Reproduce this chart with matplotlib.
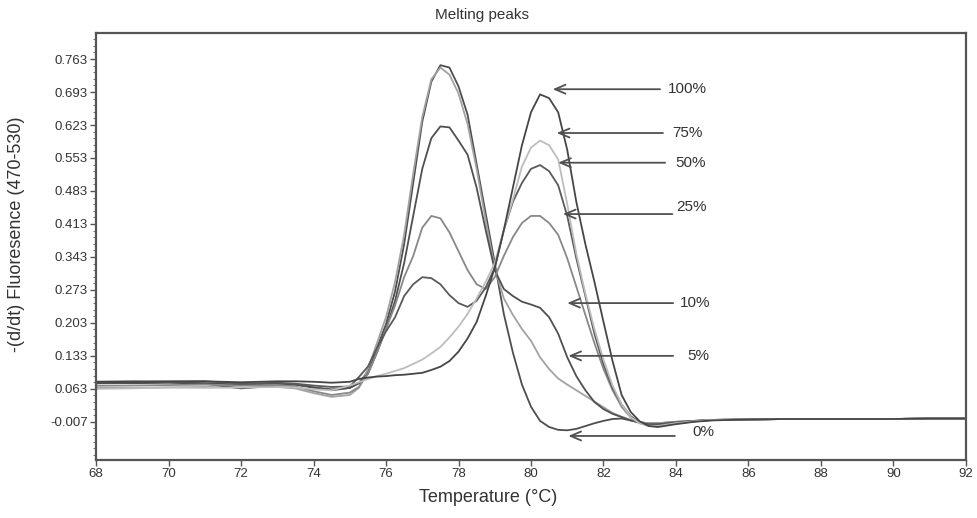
import matplotlib
matplotlib.use("Agg")
import matplotlib.pyplot as plt
from matplotlib.ticker import AutoMinorLocator, FixedLocator

plt.rcParams["font.family"] = ["Liberation Sans", "DejaVu Sans"]

# shared temperature grid (degC)
temp = [68, 69, 70, 71, 72, 73, 73.5, 74, 74.5, 75, 75.25, 75.5, 75.75, 76, 76.25, 76.5,
        76.75, 77, 77.25, 77.5, 77.75, 78, 78.25, 78.5, 78.75, 79, 79.25, 79.5, 79.75, 80,
        80.25, 80.5, 80.75, 81, 81.25, 81.5, 81.75, 82, 82.25, 82.5, 82.75, 83, 83.25, 83.5,
        84, 84.5, 85, 86, 87, 88, 89, 90, 91, 92]

# -(d/dt) fluorescence
pct0 = [0.075, 0.076, 0.077, 0.075, 0.072, 0.074, 0.072, 0.066, 0.060, 0.065, 0.075, 0.100,
        0.150, 0.200, 0.270, 0.370, 0.500, 0.630, 0.715, 0.750, 0.745, 0.705, 0.645, 0.540,
        0.435, 0.330, 0.222, 0.140, 0.072, 0.025, -0.005, -0.018, -0.024, -0.025, -0.022,
        -0.016, -0.010, -0.005, -0.001, 0.000, -0.004, -0.008, -0.010, -0.010, -0.007,
        -0.005, -0.003, -0.002, -0.001, -0.001, -0.001, -0.001, 0.000, 0.000]
pct5 = [0.066, 0.065, 0.066, 0.067, 0.066, 0.067, 0.064, 0.054, 0.046, 0.050, 0.065, 0.105,
        0.160, 0.215, 0.290, 0.390, 0.520, 0.640, 0.720, 0.745, 0.730, 0.690, 0.625, 0.530,
        0.420, 0.320, 0.255, 0.220, 0.190, 0.165, 0.130, 0.105, 0.085, 0.072, 0.060, 0.048,
        0.036, 0.024, 0.012, 0.004, -0.003, -0.008, -0.010, -0.010, -0.007, -0.005, -0.003,
        -0.002, -0.001, -0.001, -0.001, -0.001, 0.000, 0.000]
pct10 = [0.076, 0.075, 0.076, 0.074, 0.064, 0.070, 0.072, 0.066, 0.062, 0.065, 0.075, 0.095,
         0.140, 0.190, 0.250, 0.330, 0.430, 0.530, 0.595, 0.620, 0.618, 0.590, 0.560, 0.490,
         0.400, 0.315, 0.275, 0.260, 0.248, 0.242, 0.235, 0.215, 0.180, 0.130, 0.090, 0.060,
         0.035, 0.020, 0.010, 0.003, -0.004, -0.009, -0.012, -0.012, -0.008, -0.005, -0.003,
         -0.002, -0.001, -0.001, -0.001, -0.001, 0.000, 0.000]
pct25 = [0.070, 0.070, 0.071, 0.072, 0.070, 0.071, 0.068, 0.058, 0.050, 0.055, 0.067, 0.095,
         0.140, 0.190, 0.240, 0.300, 0.345, 0.405, 0.430, 0.425, 0.395, 0.355, 0.315, 0.285,
         0.275, 0.300, 0.345, 0.385, 0.415, 0.430, 0.430, 0.415, 0.390, 0.340, 0.280, 0.220,
         0.160, 0.105, 0.060, 0.025, 0.002, -0.010, -0.015, -0.015, -0.010, -0.006, -0.003,
         -0.002, -0.001, -0.001, -0.001, -0.001, 0.000, 0.000]
pct50 = [0.078, 0.079, 0.078, 0.079, 0.074, 0.076, 0.074, 0.070, 0.067, 0.068, 0.088, 0.110,
         0.150, 0.185, 0.215, 0.260, 0.285, 0.300, 0.298, 0.285, 0.262, 0.245, 0.237, 0.250,
         0.278, 0.320, 0.400, 0.460, 0.500, 0.530, 0.538, 0.525, 0.495, 0.430, 0.340, 0.260,
         0.180, 0.115, 0.065, 0.030, 0.005, -0.008, -0.014, -0.014, -0.009, -0.006, -0.003,
         -0.002, -0.001, -0.001, -0.001, -0.001, 0.000, 0.000]
pct75 = [0.063, 0.064, 0.066, 0.065, 0.066, 0.067, 0.066, 0.062, 0.060, 0.070, 0.077, 0.084,
         0.090, 0.095, 0.101, 0.107, 0.116, 0.125, 0.138, 0.152, 0.172, 0.195, 0.222, 0.255,
         0.290, 0.330, 0.400, 0.465, 0.535, 0.575, 0.590, 0.580, 0.550, 0.455, 0.350, 0.265,
         0.190, 0.125, 0.070, 0.030, 0.003, -0.010, -0.016, -0.016, -0.010, -0.006, -0.003,
         -0.002, -0.001, -0.001, -0.001, -0.001, 0.000, 0.000]
pct100 = [0.078, 0.078, 0.079, 0.079, 0.077, 0.079, 0.079, 0.078, 0.076, 0.078, 0.084, 0.087,
          0.089, 0.090, 0.092, 0.093, 0.095, 0.097, 0.103, 0.110, 0.122, 0.142, 0.170, 0.205,
          0.260, 0.320, 0.400, 0.490, 0.580, 0.650, 0.688, 0.680, 0.650, 0.570, 0.460, 0.370,
          0.290, 0.205, 0.122, 0.050, 0.014, -0.006, -0.016, -0.018, -0.012, -0.007, -0.004,
          -0.002, -0.001, -0.001, -0.001, -0.001, 0.000, 0.000]

curves = [pct0, pct5, pct10, pct25, pct50, pct75, pct100]
shades = ["#4e4e4e", "#a2a2a2", "#505050", "#888888", "#5a5a5a", "#bdbdbd", "#464646"]

# arrow labels: (label, tip temp, tip value, tail temp)
labels = ["100%", "75%", "50%", "25%", "10%", "5%", "0%"]
tip_t = [80.6, 80.71, 80.75, 80.88, 81.0, 81.03, 81.03]
tip_v = [0.699, 0.606, 0.543, 0.434, 0.245, 0.133, -0.037]
tail_t = [83.56, 83.64, 83.7, 83.9, 83.92, 83.92, 83.97]
text_t = [83.78, 83.9, 83.98, 84.0, 84.12, 84.3, 84.45]
text_v = [0.699, 0.606, 0.543, 0.448, 0.245, 0.133, -0.028]

yticks = [-0.007, 0.063, 0.133, 0.203, 0.273, 0.343, 0.413, 0.483, 0.553, 0.623, 0.693, 0.763]
xticks = [68, 70, 72, 74, 76, 78, 80, 82, 84, 86, 88, 90, 92]

fig = plt.figure(figsize=(9.78, 5.18), dpi=100)
ax = fig.add_axes([0.0982, 0.112, 0.8895, 0.824])
TXT = "#333333"

for vals, col in zip(curves, shades):
    ax.plot(temp, vals, color=col, lw=1.3, solid_joinstyle="round")

for lab, tx, tv, tt, lx, lv in zip(labels, tip_t, tip_v, tail_t, text_t, text_v):
    ax.annotate("", xy=(tx, tv), xytext=(tt, tv),
                arrowprops=dict(arrowstyle="->,head_length=0.75,head_width=0.32",
                                color="#505050", lw=1.3, shrinkA=0, shrinkB=0))
    ax.text(lx, lv, lab, ha="left", va="center", fontsize=11, color=TXT)

ax.set_xlim(68, 92)
ax.set_ylim(-0.088, 0.818)
ax.xaxis.set_major_locator(FixedLocator(xticks))
ax.yaxis.set_major_locator(FixedLocator(yticks))
ax.set_yticklabels([f"{v:.3f}" for v in yticks])
ax.yaxis.set_minor_locator(AutoMinorLocator(5))
ax.tick_params(axis="both", which="major", direction="out", length=4, width=1,
               color="#555555", labelsize=9.5, labelcolor=TXT, pad=2)
ax.tick_params(axis="y", which="minor", direction="out", length=2, width=0.8, color="#777777")
for sp in ax.spines.values():
    sp.set_color("#555555")
    sp.set_linewidth(1.6)

# title and x label sit centred on the figure, not on the axes
fig.text(0.493, 0.972, "Melting peaks", ha="center", va="center", fontsize=11, color=TXT)
fig.text(0.499, 0.039, "Temperature (°C)", ha="center", va="center", fontsize=13, color=TXT)
ax.set_ylabel("-(d/dt) Fluoresence (470-530)", fontsize=13, color=TXT, labelpad=14)
ax.yaxis.set_label_coords(-0.082, 0.53)

fig.savefig("out.png", dpi=100)
